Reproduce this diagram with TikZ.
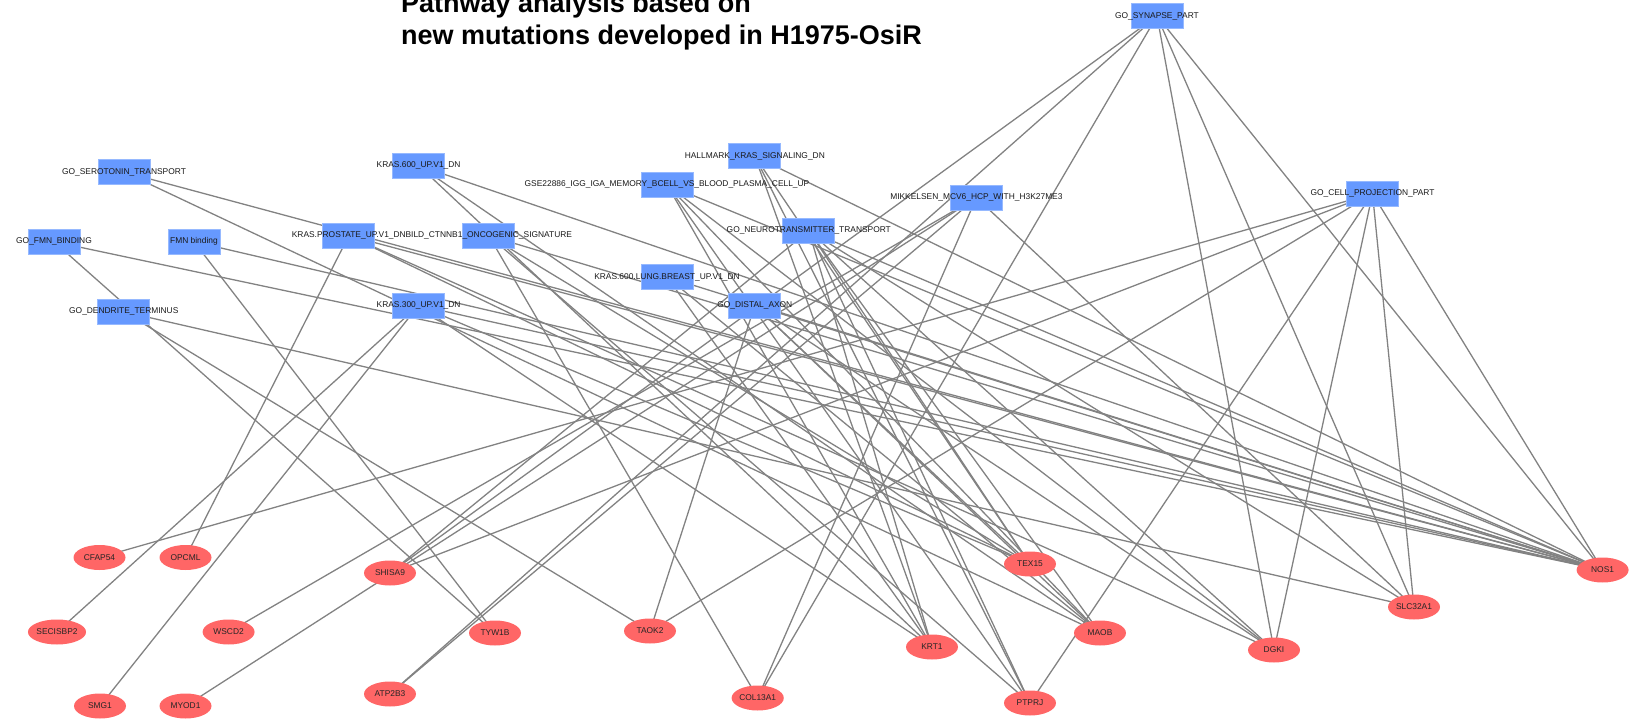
\documentclass[tikz,border=0pt]{standalone}
\usepackage{fontspec}
\setmainfont{Liberation Sans}
\usetikzlibrary{shapes.geometric}
\pgfdeclarelayer{background}
\pgfsetlayers{background,main}
\definecolor{pw}{RGB}{102,153,255}
\definecolor{pwb}{RGB}{150,185,255}
\definecolor{gn}{RGB}{255,102,102}
\definecolor{ed}{RGB}{130,130,130}
\begin{document}
\begin{tikzpicture}[x=1pt,y=-1pt,
  pwbox/.style={rectangle, fill=pw, draw=pwb, line width=0.8pt, minimum width=52pt, minimum height=25pt, inner sep=0pt},
  gene/.style={ellipse, fill=gn, minimum width=52pt, minimum height=25pt, inner sep=0pt, font=\fontsize{8.4}{10}\selectfont, text=black!85},
  lbl/.style={font=\fontsize{8.4}{10}\selectfont, inner sep=0pt, text=black!90},
  edge/.style={draw=ed, line width=1.3pt},
  ttl/.style={anchor=base west, inner sep=0pt, font=\fontsize{27}{32}\selectfont\bfseries}]
\useasboundingbox (0,0) rectangle (1634,719);
\clip (0,0) rectangle (1634,719);
% title
\node[ttl] (t1) at (401,13) {Pathway analysis based on};
\node[ttl] (t2) at (401,45) {new mutations developed in H1975-OsiR};
% pathway nodes
\node[pwbox] (syn) at (1157,16) {};
\node[pwbox] (ser) at (124,172) {};
\node[pwbox] (k600) at (418.6,165.5) {};
\node[pwbox] (hall) at (754.8,156.3) {};
\node[pwbox] (gse) at (667,184.7) {};
\node[pwbox] (mik) at (976.4,197.7) {};
\node[pwbox] (cell) at (1372.5,193.7) {};
\node[pwbox] (fmnb) at (54,241.7) {};
\node[pwbox] (fmn) at (194,241.7) {};
\node[pwbox] (pros) at (348.8,235.7) {};
\node[pwbox] (bild) at (488.8,235.7) {};
\node[pwbox] (neur) at (808.8,230.8) {};
\node[pwbox] (lung) at (667,277) {};
\node[pwbox] (dist) at (754.8,305.5) {};
\node[pwbox] (dend) at (123.8,311.7) {};
\node[pwbox] (k300) at (418.6,305.5) {};
% gene nodes
\node[gene] (cfap54) at (99.5,557.5) {CFAP54};
\node[gene] (opcml) at (185.5,557.5) {OPCML};
\node[gene] (shisa9) at (390,573) {SHISA9};
\node[gene] (secisbp2) at (57,632) {SECISBP2};
\node[gene] (wscd2) at (228.6,632) {WSCD2};
\node[gene] (tyw1b) at (495,633) {TYW1B};
\node[gene] (smg1) at (100,706) {SMG1};
\node[gene] (myod1) at (185.5,706) {MYOD1};
\node[gene] (atp2b3) at (390,694) {ATP2B3};
\node[gene] (taok2) at (650,631) {TAOK2};
\node[gene] (col13a1) at (757.7,698) {COL13A1};
\node[gene] (krt1) at (932,647) {KRT1};
\node[gene] (tex15) at (1030,564) {TEX15};
\node[gene] (maob) at (1100,633) {MAOB};
\node[gene] (ptprj) at (1030,703) {PTPRJ};
\node[gene] (dgki) at (1274,650) {DGKI};
\node[gene] (slc32a1) at (1414,607) {SLC32A1};
\node[gene] (nos1) at (1602.6,570) {NOS1};
% pathway labels
\node[lbl] (syn-l) at (syn) {GO\_SYNAPSE\_PART};
\node[lbl] (ser-l) at (ser) {GO\_SEROTONIN\_TRANSPORT};
\node[lbl] (k600-l) at (k600) {KRAS.600\_UP.V1\_DN};
\node[lbl] (hall-l) at (hall) {HALLMARK\_KRAS\_SIGNALING\_DN};
\node[lbl] (gse-l) at (gse) {GSE22886\_IGG\_IGA\_MEMORY\_BCELL\_VS\_BLOOD\_PLASMA\_CELL\_UP};
\node[lbl] (mik-l) at (mik) {MIKKELSEN\_MCV6\_HCP\_WITH\_H3K27ME3};
\node[lbl] (cell-l) at (cell) {GO\_CELL\_PROJECTION\_PART};
\node[lbl] (fmnb-l) at (fmnb) {GO\_FMN\_BINDING};
\node[lbl] (fmn-l) at (fmn) {FMN binding};
\node[lbl] (pros-l) at (pros) {KRAS.PROSTATE\_UP.V1\_DN};
\node[lbl] (bild-l) at (bild) {BILD\_CTNNB1\_ONCOGENIC\_SIGNATURE};
\node[lbl] (neur-l) at (neur) {GO\_NEUROTRANSMITTER\_TRANSPORT};
\node[lbl] (lung-l) at (lung) {KRAS.600.LUNG.BREAST\_UP.V1\_DN};
\node[lbl] (dist-l) at (dist) {GO\_DISTAL\_AXON};
\node[lbl] (dend-l) at (dend) {GO\_DENDRITE\_TERMINUS};
\node[lbl] (k300-l) at (k300) {KRAS.300\_UP.V1\_DN};
\begin{pgfonlayer}{background}
\foreach \a/\b in {
  syn/shisa9, syn/atp2b3, syn/col13a1, syn/dgki, syn/slc32a1, syn/nos1,
  cell/cfap54, cell/shisa9, cell/taok2, cell/ptprj, cell/dgki, cell/slc32a1, cell/nos1,
  mik/myod1, mik/wscd2, mik/atp2b3, mik/col13a1, mik/slc32a1,
  fmnb/tyw1b, fmnb/nos1, fmn/tyw1b, fmn/nos1,
  ser/nos1, ser/maob, dend/taok2, dend/slc32a1,
  pros/opcml, pros/dgki, pros/tex15, pros/nos1,
  k600/nos1, k600/krt1, k600/maob,
  k300/secisbp2, k300/smg1, k300/tex15, k300/nos1, k300/krt1,
  bild/col13a1, bild/tex15, bild/nos1, bild/ptprj,
  hall/krt1, hall/ptprj, hall/tex15, hall/nos1,
  gse/maob, gse/ptprj, gse/krt1, gse/nos1, gse/dgki,
  neur/shisa9, neur/tex15, neur/maob, neur/ptprj, neur/krt1, neur/dgki, neur/slc32a1, neur/nos1,
  lung/krt1, lung/maob, lung/nos1,
  dist/taok2, dist/tex15, dist/maob, dist/dgki, dist/nos1}
  \draw[edge] (\a.center) -- (\b.center);
\end{pgfonlayer}
\end{tikzpicture}
\end{document}
